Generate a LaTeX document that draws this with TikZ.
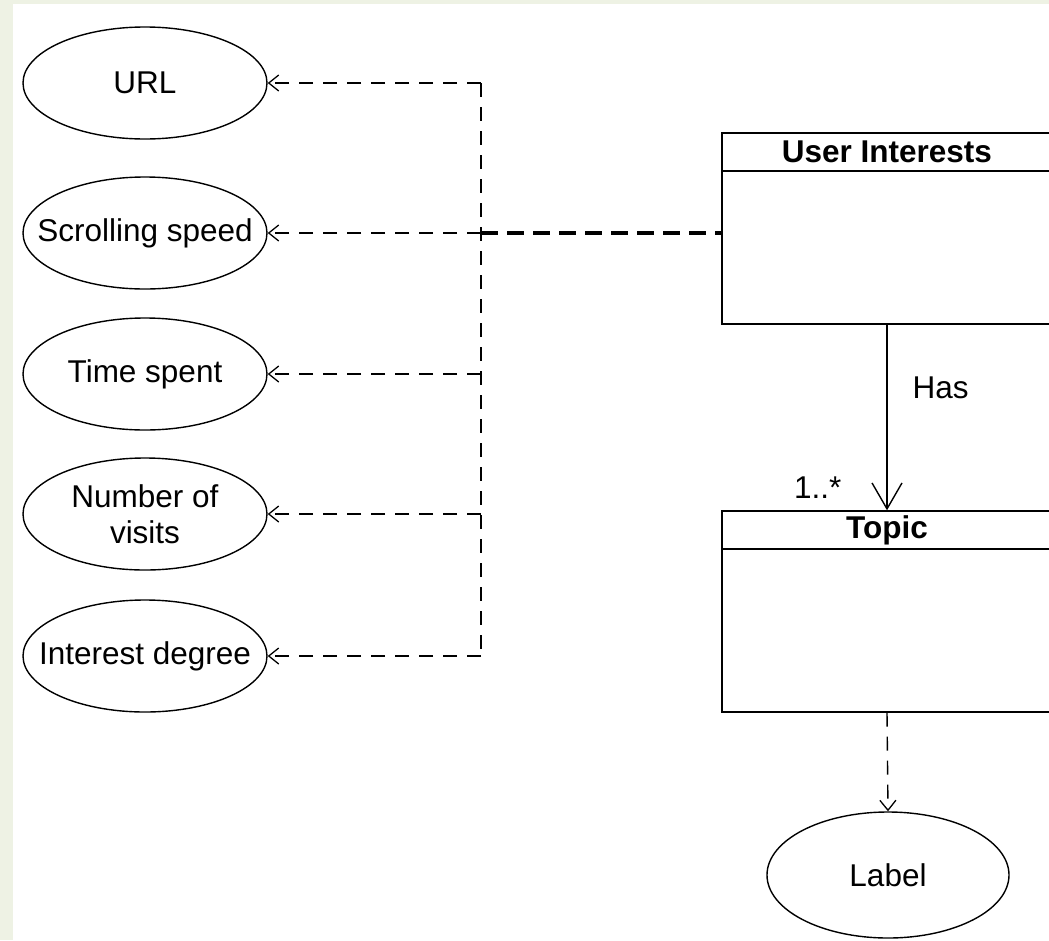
\documentclass[tikz,border=0pt]{standalone}
\usepackage{fontspec}
\setmainfont{Liberation Sans}
\usetikzlibrary{shapes.geometric,arrows.meta,positioning}
\definecolor{bggreen}{RGB}{238,242,228}
\begin{document}
\begin{tikzpicture}[x=1pt,y=-1pt,
        line width=1.4pt,
        attr node/.style={ellipse,draw,black,fill=white,minimum width=244pt,minimum height=112pt,
            inner xsep=-26pt,inner ysep=0pt,align=center,font=\fontsize{31.5}{36}\selectfont},
        class node/.style={rectangle,draw,fill=white,minimum width=330pt,inner sep=0pt},
        class head/.style={rectangle,draw,minimum width=330pt,minimum height=38pt,inner sep=0pt,
            font=\bfseries\fontsize{31.5}{36}\selectfont},
        dep/.style={dash pattern=on 14pt off 10pt,-{Straight Barb[length=10pt,width=16pt,line width=1.3pt]}},
        dep line/.style={dash pattern=on 14pt off 10pt},
        thick dep/.style={line width=4pt,dash pattern=on 17pt off 9pt},
        assoc/.style={-{Straight Barb[length=26pt,width=30pt,line width=1.4pt]}},
        txt/.style={inner sep=0pt,font=\fontsize{31.5}{36}\selectfont}]

        \useasboundingbox (0,0) rectangle (1049,940);
        \fill[bggreen] (0,0) rectangle (1049,940);
        \fill[white] (13,4) rectangle (1049,940);

        % attributes
        \node[attr node] (url)      at (145,83)  {URL};
        \node[attr node] (scroll)   at (145,233) {Scrolling speed};
        \node[attr node] (time)     at (145,374) {Time spent};
        \node[attr node] (visits)   at (145,514) {Number of\\visits};
        \node[attr node] (degree)   at (145,656) {Interest degree};

        % junctions on the bus
        \coordinate (j1) at (481,83);
        \coordinate (j2) at (481,233);
        \coordinate (j3) at (481,374);
        \coordinate (j4) at (481,514);
        \coordinate (j5) at (481,656);

        % classes
        \node[class node,minimum height=191pt] (ui) at (887,228.5) {};
        \node[class head] (uihead) [below=0pt of ui.north] {User Interests};
        \node[class node,minimum height=201pt] (topic) at (887,611.5) {};
        \node[class head] (topichead) [below=0pt of topic.north] {Topic};

        \node[attr node,minimum width=242pt,minimum height=126pt] (label) at (888,875) {Label};

        \draw[dep line] (j1) -- (j5);
        \path
            (j1) edge [dep] (url.east)
            (j2) edge [dep] (scroll.east)
            (j3) edge [dep] (time.east)
            (j4) edge [dep] (visits.east)
            (j5) edge [dep] (degree.east);
        \draw[thick dep] (j2) -- (ui.west |- j2);

        \draw[assoc] (ui.south) -- node[txt,pos=0.34,right=25pt] {Has}
            node[txt,pos=0.88,left=45pt] {1..*} (topic.north);
        \draw[dep] (topic.south) -- (label.north);
    \end{tikzpicture}
\end{document}
